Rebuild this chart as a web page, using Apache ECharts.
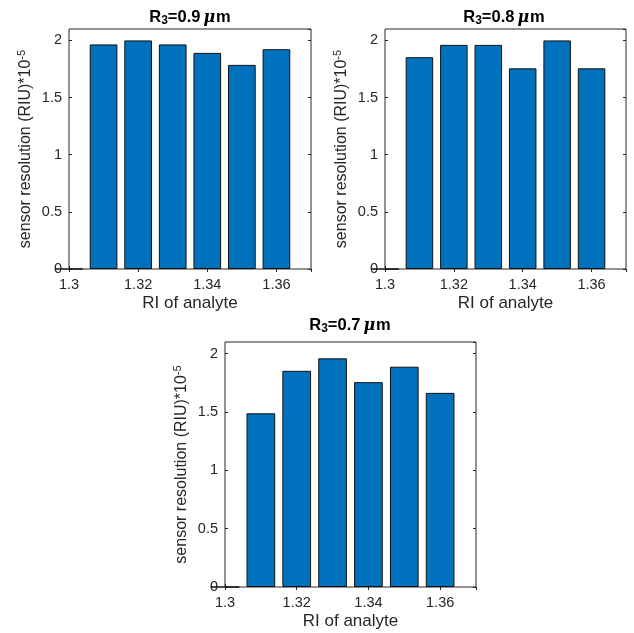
<!DOCTYPE html>
<html><head><meta charset="utf-8">
<script src="https://cdn.jsdelivr.net/npm/echarts@6/dist/echarts.min.js"></script>
<style>html,body{margin:0;padding:0;background:#fff}#c{width:634px;height:633px}</style>
</head><body><div id="c"></div>
<script>
var ri = [1.30, 1.31, 1.32, 1.33, 1.34, 1.35, 1.36];
var res09 = [0, 1.965, 2.0, 1.965, 1.891, 1.786, 1.923];
var res08 = [0, 1.853, 1.961, 1.961, 1.756, 2.0, 1.756];
var res07 = [0, 1.489, 1.853, 1.960, 1.756, 1.888, 1.664];
var titles = ['0.9', '0.8', '0.7'];
var xTicks = [1.3, 1.32, 1.34, 1.36];
var yTicks = [0, 0.5, 1, 1.5, 2];

var FONT = 'Liberation Sans, Arial, sans-serif';
var AX = '#262626';
var grids = [
  {left: 69, top: 29, width: 242, height: 240},
  {left: 385, top: 29, width: 241, height: 240},
  {left: 225, top: 342, width: 251, height: 245}
];
var allSeries = [res09, res08, res07];

function pairs(v){ return ri.map(function(x,i){ return [x, v[i]]; }); }
function fmtX(v){
  var r = Math.round(v*100)/100;
  for (var i=0;i<xTicks.length;i++){ if (Math.abs(xTicks[i]-r)<1e-9) return String(xTicks[i]); }
  return '';
}
function fmtY(v){
  var r = Math.round(v*10)/10;
  for (var i=0;i<yTicks.length;i++){ if (Math.abs(yTicks[i]-r)<1e-9) return String(yTicks[i]); }
  return '';
}

var opt = {
  animation: false,
  backgroundColor: '#fff',
  title: [], grid: [], xAxis: [], yAxis: [], series: []
};
var titleCenters = [[185, 3], [499, 3], [345, 311]];
grids.forEach(function(g, k){
  opt.grid.push({left: g.left, top: g.top, width: g.width, height: g.height, show: true,
    borderColor: AX, borderWidth: 1, backgroundColor: 'transparent', containLabel: false});
  opt.title.push({
    left: titleCenters[k][0], top: titleCenters[k][1], textAlign: 'center',
    text: '{b|R}{sub|3}{b|=' + titles[k] + '}{mu|μ}{b|m}',
    textStyle: {rich: {
      b: {fontFamily: FONT, fontWeight: 'bold', fontSize: 16.5, color: '#000', lineHeight: 19, verticalAlign: 'middle'},
      sub: {fontFamily: FONT, fontWeight: 'bold', fontSize: 12, color: '#000', lineHeight: 8, verticalAlign: 'bottom'},
      mu: {fontFamily: 'DejaVu Serif, serif', fontStyle: 'italic', fontSize: 16, color: '#000', lineHeight: 19, verticalAlign: 'middle', padding: [0,1,0,3]}
    }}
  });
  opt.xAxis.push({
    type: 'value', gridIndex: k, min: 1.3, max: 1.37, interval: 0.02, position: 'bottom',
    name: 'RI of analyte', nameLocation: 'middle', nameGap: 26,
    nameTextStyle: {fontFamily: FONT, fontSize: 17, color: AX},
    axisLine: {show: false}, splitLine: {show: false},
    axisTick: {show: true, inside: true, length: 3, lineStyle: {color: AX}},
    axisLabel: {fontFamily: FONT, fontSize: 14.5, color: AX, margin: 8, formatter: fmtX, showMaxLabel: false}
  });
  opt.xAxis.push({
    type: 'value', gridIndex: k, min: 1.3, max: 1.37, interval: 0.02, position: 'top',
    axisLine: {show: false}, splitLine: {show: false}, axisLabel: {show: false},
    axisTick: {show: true, inside: true, length: 3, lineStyle: {color: AX}}
  });
  opt.yAxis.push({
    type: 'value', gridIndex: k, min: 0, max: 2.1, interval: 0.5, position: 'left',
    name: '{t|sensor resolution (RIU)*10}{s|-5}', nameLocation: 'middle', nameGap: 33,
    nameTextStyle: {rich: {
      t: {fontFamily: FONT, fontSize: 16, color: AX, lineHeight: 20, verticalAlign: 'middle'},
      s: {fontFamily: FONT, fontSize: 11, color: AX, lineHeight: 8, verticalAlign: 'top'}
    }},
    axisLine: {show: false}, splitLine: {show: false},
    axisTick: {show: true, inside: true, length: 3, lineStyle: {color: AX}},
    axisLabel: {fontFamily: FONT, fontSize: 14.5, color: AX, margin: 7, formatter: fmtY, showMaxLabel: false}
  });
  opt.yAxis.push({
    type: 'value', gridIndex: k, min: 0, max: 2.1, interval: 0.5, position: 'right',
    axisLine: {show: false}, splitLine: {show: false}, axisLabel: {show: false},
    axisTick: {show: true, inside: true, length: 3, lineStyle: {color: AX}}
  });
  opt.series.push({
    type: 'bar', xAxisIndex: 2*k, yAxisIndex: 2*k, data: pairs(allSeries[k]),
    barWidth: Math.round(g.width * 0.008 / 0.07 * 10) / 10, clip: true,
    itemStyle: {color: '#0072BD', borderColor: '#111', borderWidth: 1}
  });
});
var chart = echarts.init(document.getElementById('c'), null, {renderer: 'canvas'});
chart.setOption(opt);
</script></body></html>
